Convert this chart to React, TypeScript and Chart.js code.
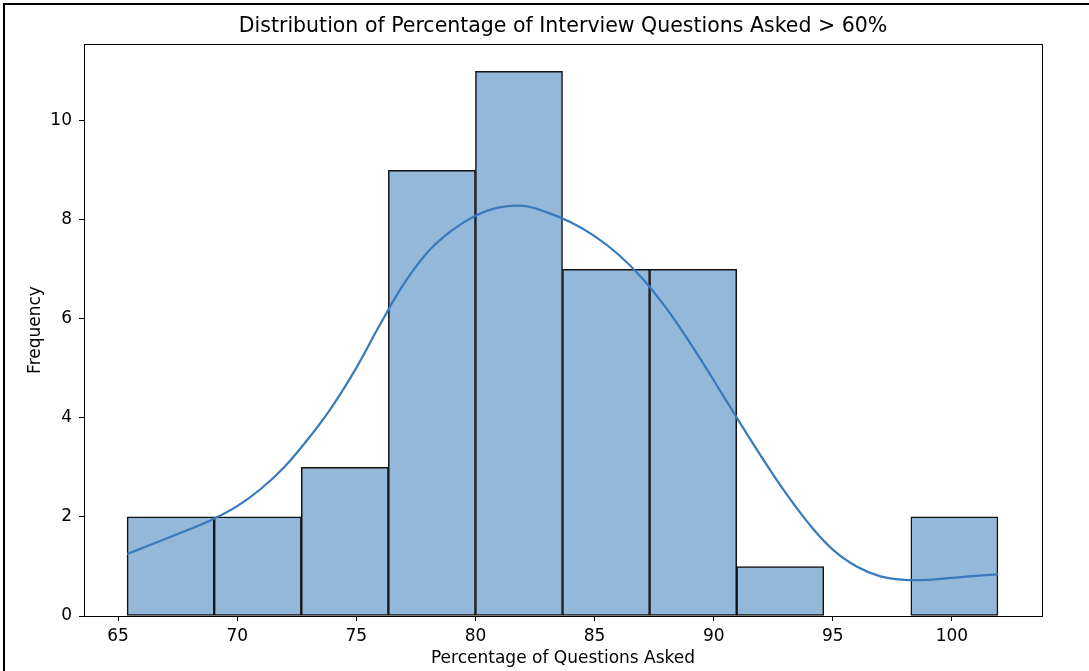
import React, { useEffect, useRef } from "react";
import { Chart, registerables } from "chart.js";

Chart.register(...registerables);

// Histogram bins
const binStart = 65.38;
const binWidth = 3.655;
const binCounts = [2, 2, 3, 9, 11, 7, 7, 1, 0, 2];

// KDE curve points
const kdeX = [65.38, 66, 67, 68, 69, 70, 71, 72, 73, 74, 75, 76, 77, 78, 79, 80, 81, 82, 83, 84, 85, 86, 87, 88, 89, 90, 91, 92, 93, 94, 95, 96, 97, 98, 99, 100, 101, 101.94];
const kdeY = [1.25, 1.37, 1.56, 1.75, 1.96, 2.22, 2.57, 3.02, 3.59, 4.24, 5.01, 5.89, 6.71, 7.35, 7.78, 8.08, 8.25, 8.28, 8.15, 7.95, 7.67, 7.3, 6.82, 6.22, 5.52, 4.76, 3.98, 3.22, 2.5, 1.86, 1.34, 1.0, 0.8, 0.73, 0.73, 0.77, 0.81, 0.84];

const xTicks = [65, 70, 75, 80, 85, 90, 95, 100];
const yTicks = [0, 2, 4, 6, 8, 10];

const titleText = "Distribution of Percentage of Interview Questions Asked > 60%";
const xLabel = "Percentage of Questions Asked";
const yLabel = "Frequency";

const FONT = "'DejaVu Sans', sans-serif";

export default function App() {
  const ref = useRef<HTMLCanvasElement | null>(null);
  useEffect(() => {
    if (!ref.current) return;
    const barData = binCounts.map((c, i) => ({ x: binStart + binWidth * (i + 0.5), y: c }));
    const kdeData = kdeX.map((x, i) => ({ x, y: kdeY[i] }));

    const framePlugin = {
      id: "frame",
      beforeDraw(chart: any) {
        const ctx = chart.ctx;
        ctx.save();
        ctx.fillStyle = "#ffffff";
        ctx.fillRect(0, 0, chart.width, chart.height);
        ctx.fillStyle = "#000000";
        ctx.fillRect(3, 3, chart.width - 3, 2);
        ctx.fillRect(3, 3, 2, chart.height - 3);
        ctx.restore();
      },
      afterDraw(chart: any) {
        const ctx = chart.ctx;
        const a = chart.chartArea;
        ctx.save();
        ctx.strokeStyle = "#000000";
        ctx.lineWidth = 1;
        ctx.strokeRect(Math.round(a.left) + 0.5, Math.round(a.top) + 0.5, Math.round(a.right - a.left), Math.round(a.bottom - a.top));
        ctx.restore();
      },
    };

    const chart = new Chart(ref.current, {
      type: "bar",
      data: {
        datasets: [
          {
            type: "line",
            data: kdeData,
            borderColor: "rgb(56,122,187)",
            borderWidth: 2.2,
            pointRadius: 0,
            tension: 0.4,
            fill: false,
            order: 0,
          } as any,
          {
            type: "bar",
            data: barData,
            backgroundColor: "rgb(148,184,217)",
            borderColor: "#111111",
            borderWidth: 1.5,
            borderSkipped: false,
            barPercentage: 1,
            categoryPercentage: 1,
            order: 1,
          } as any,
        ],
      },
      options: {
        animation: false,
        responsive: false,
        maintainAspectRatio: false,
        layout: { padding: { left: 0, right: 47, top: 0, bottom: 0 } },
        plugins: {
          legend: { display: false },
          tooltip: { enabled: false },
          title: {
            display: true,
            text: titleText,
            color: "#000",
            fullSize: false,
            font: { family: FONT, size: 20.5, weight: "normal" },
            padding: { top: 14.7, bottom: 4.7 },
          },
        },
        scales: {
          x: {
            type: "linear",
            min: 63.57,
            max: 103.78,
            offset: false,
            grid: { display: true, offset: false, drawOnChartArea: false, drawTicks: true, tickLength: 5, tickColor: "#000" },
            border: { display: true, color: "#000", width: 1 },
            ticks: { color: "#000", font: { family: FONT, size: 17 }, padding: 5, maxRotation: 0 },
            afterBuildTicks: (s: any) => { s.ticks = xTicks.map((v) => ({ value: v })); },
            afterFit: (s: any) => { s.height = 55; },
            title: { display: true, text: xLabel, color: "#000", font: { family: FONT, size: 17 }, padding: { top: 0, bottom: 2 } },
          },
          y: {
            type: "linear",
            min: 0,
            max: 11.55,
            grid: { display: true, offset: false, drawOnChartArea: false, drawTicks: true, tickLength: 5, tickColor: "#000" },
            border: { display: true, color: "#000", width: 1 },
            ticks: { color: "#000", font: { family: FONT, size: 17 }, padding: 7 },
            afterBuildTicks: (s: any) => { s.ticks = yTicks.map((v) => ({ value: v })); },
            afterFit: (s: any) => { s.width = 84; },
            title: { display: true, text: yLabel, color: "#000", font: { family: FONT, size: 17 }, padding: { top: 25, bottom: 0 } },
          },
        },
      },
      plugins: [framePlugin],
    } as any);
    return () => chart.destroy();
  }, []);

  return (
    <div style={{ position: "fixed", left: 0, top: 0, width: 1089, height: 671, background: "#fff" }}>
      <canvas ref={ref} width={1089} height={671} style={{ display: "block", width: 1089, height: 671 }} />
    </div>
  );
}
